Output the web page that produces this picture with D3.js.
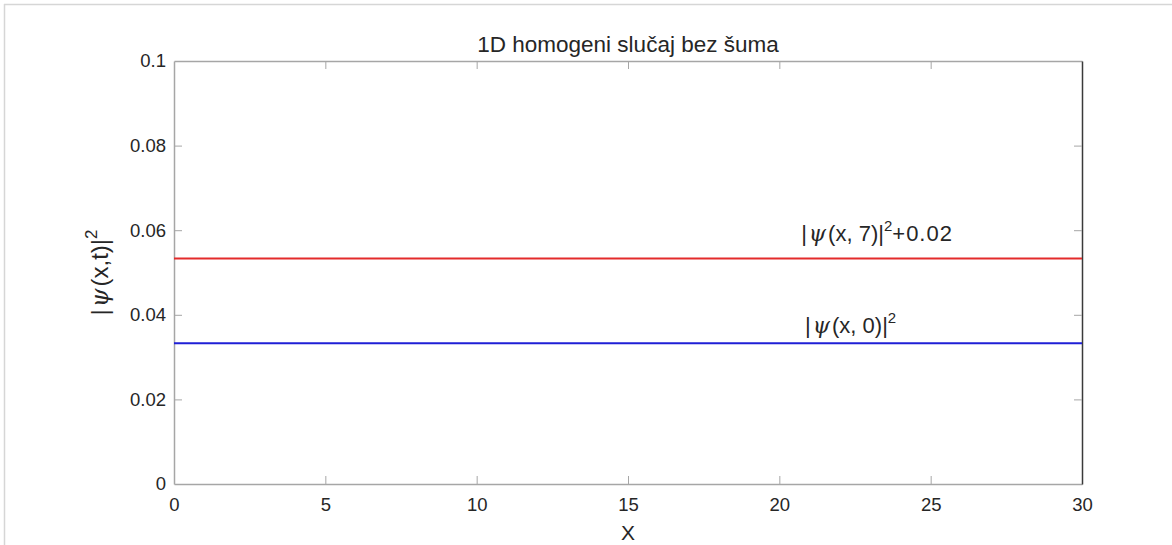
<!DOCTYPE html>
<html>
<head>
<meta charset="utf-8">
<script src="https://cdn.jsdelivr.net/npm/d3@7"></script>
<style>
  html, body { margin: 0; padding: 0; background: #fff; }
  svg { display: block; }
  text { font-family: "Liberation Sans", Arial, sans-serif; fill: #262626; }
</style>
</head>
<body>
<svg id="chart" width="1172" height="545"></svg>
<script>
// ---- data ----
const xValues = [0, 30];
const psi0 = [0.0333, 0.0333];          // |psi(x,0)|^2
const psi7 = [0.0533, 0.0533];          // |psi(x,7)|^2 + 0.02
const xTicks = [0, 5, 10, 15, 20, 25, 30];
const yTicks = [0, 0.02, 0.04, 0.06, 0.08, 0.1];
const yTickLabels = ["0", "0.02", "0.04", "0.06", "0.08", "0.1"];
const labelPos0 = [20.85, 0.0357];
const labelPos7 = [20.72, 0.0574];
const titleText = "1D homogeni slučaj bez šuma";
const xLabelText = "X";

// ---- layout ----
const W = 1172, H = 545;
const L = 174, R = 1082, T = 61, B = 484;
const svg = d3.select("#chart");

const x = d3.scaleLinear().domain([0, 30]).range([L, R]);
const y = d3.scaleLinear().domain([0, 0.1]).range([B, T]);

// figure border (top & left)
svg.append("line").attr("x1", 4).attr("x2", W).attr("y1", 4.5).attr("y2", 4.5)
  .attr("stroke", "#d6d6d6").attr("stroke-width", 1.5);
svg.append("line").attr("x1", 4.5).attr("x2", 4.5).attr("y1", 4).attr("y2", H)
  .attr("stroke", "#d6d6d6").attr("stroke-width", 1.5);

const axisGray = "#a6a6a6";
const tickLen = 8;

// axes
const gx = svg.append("g").attr("transform", `translate(0,${B})`)
  .call(d3.axisBottom(x).tickValues(xTicks).tickFormat(d3.format("d"))
        .tickSizeInner(-tickLen).tickSizeOuter(0).tickPadding(14));
const gxTop = svg.append("g").attr("transform", `translate(0,${T})`)
  .call(d3.axisTop(x).tickValues(xTicks).tickFormat("")
        .tickSizeInner(-tickLen).tickSizeOuter(0));
const gy = svg.append("g").attr("transform", `translate(${L},0)`)
  .call(d3.axisLeft(y).tickValues(yTicks).tickFormat((d, i) => yTickLabels[i])
        .tickSizeInner(-tickLen).tickSizeOuter(0).tickPadding(8));
const gyR = svg.append("g").attr("transform", `translate(${R},0)`)
  .call(d3.axisRight(y).tickValues(yTicks).tickFormat("")
        .tickSizeInner(-tickLen).tickSizeOuter(0));

[gx, gxTop, gy, gyR].forEach(g => {
  g.selectAll(".domain").attr("stroke", axisGray).attr("stroke-width", 1.5);
  g.selectAll(".tick line").attr("stroke", axisGray).attr("stroke-width", 1);
  g.selectAll(".tick text").attr("font-size", 18.5).attr("fill", "#262626")
    .attr("font-family", '"Liberation Sans", Arial, sans-serif');
});
// end ticks coincide with the box
[gx, gxTop].forEach(g => g.selectAll(".tick line").filter(d => d === 0 || d === 30).remove());
[gy, gyR].forEach(g => g.selectAll(".tick line").filter(d => d === 0 || d === 0.1).remove());
gyR.select(".domain").attr("stroke", "#3a3a3a");

// data lines
const line = d3.line().x((d, i) => x(xValues[i])).y(d => y(d));
svg.append("path").datum(psi7).attr("d", line)
  .attr("fill", "none").attr("stroke", "#e32b2b").attr("stroke-width", 2);
svg.append("path").datum(psi0).attr("d", line)
  .attr("fill", "none").attr("stroke", "#1f1fd6").attr("stroke-width", 2);

// annotations
function psiLabel(pos, inner, tail) {
  const t = svg.append("text").attr("x", x(pos[0])).attr("y", y(pos[1]))
    .attr("font-size", 22);
  t.append("tspan").text("|");
  t.append("tspan").attr("dx", 2).attr("font-family", '"DejaVu Serif", serif')
    .attr("font-style", "italic").text("ψ");
  t.append("tspan").attr("dx", 2).text(inner);
  t.append("tspan").attr("font-size", 15).attr("dy", -10).text("2");
  if (tail) t.append("tspan").attr("dy", 10).attr("letter-spacing", 1).text(tail);
  return t;
}
psiLabel(labelPos7, "(x, 7)|", "+0.02");
psiLabel(labelPos0, "(x, 0)|", null);

// title
svg.append("text").attr("x", (L + R) / 2).attr("y", 52)
  .attr("text-anchor", "middle").attr("font-size", 22.5).text(titleText);

// x label
svg.append("text").attr("x", (L + R) / 2).attr("y", 540)
  .attr("text-anchor", "middle").attr("font-size", 21).text(xLabelText);

// y label
const yl = svg.append("text")
  .attr("transform", `translate(108,${(T + B) / 2}) rotate(-90)`)
  .attr("text-anchor", "middle").attr("font-size", 24);
yl.append("tspan").text("|");
yl.append("tspan").attr("dx", 2).attr("font-family", '"DejaVu Serif", serif')
  .attr("font-style", "italic").text("ψ");
yl.append("tspan").attr("dx", 2).text("(x,t)|");
yl.append("tspan").attr("font-size", 17).attr("dy", -11).text("2");
</script>
</body>
</html>
